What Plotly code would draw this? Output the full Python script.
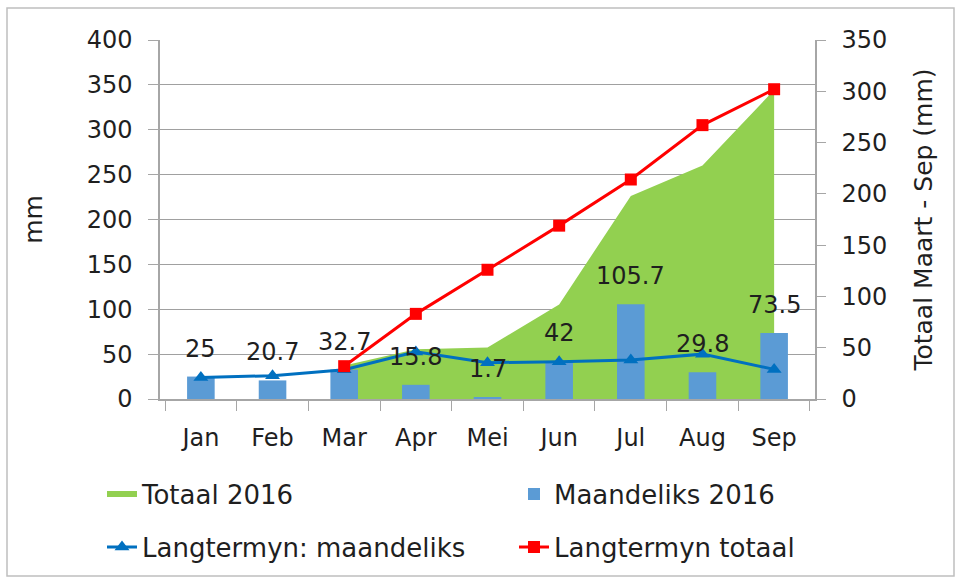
import plotly.graph_objects as go

months = ["Jan", "Feb", "Mar", "Apr", "Mei", "Jun", "Jul", "Aug", "Sep"]
maandeliks_2016 = [25, 20.7, 32.7, 15.8, 1.7, 42, 105.7, 29.8, 73.5]
totaal_months = ["Mar", "Apr", "Mei", "Jun", "Jul", "Aug", "Sep"]
totaal_2016 = [32.7, 48.5, 50.2, 92.2, 197.9, 227.7, 301.2]
langtermyn_maandeliks = [24, 26, 32.5, 52.5, 40.5, 41.5, 43.5, 50, 33]
langtermyn_totaal = [32, 83, 126, 169, 214, 267, 302]

FONT = "DejaVu Sans"
TXT = "#1f1f1f"
AX = "#a6a6a6"

fig = go.Figure()
fig.add_trace(go.Scatter(
    x=totaal_months, y=totaal_2016, name="Totaal 2016", mode="none",
    fill="tozeroy", fillcolor="#92d050", yaxis="y2", legend="legend"))
fig.add_trace(go.Bar(
    x=months, y=maandeliks_2016, name="Maandeliks 2016",
    marker=dict(color="#5b9bd5", line=dict(width=0)), yaxis="y", legend="legend2"))
fig.add_trace(go.Scatter(
    x=months, y=langtermyn_maandeliks, name="Langtermyn: maandeliks",
    mode="lines+markers", line=dict(color="#0070c0", width=3),
    marker=dict(symbol="triangle-up", size=13, color="#0070c0"),
    yaxis="y", legend="legend3"))
fig.add_trace(go.Scatter(
    x=totaal_months, y=langtermyn_totaal, name="Langtermyn totaal",
    mode="lines+markers", line=dict(color="#ff0000", width=3),
    marker=dict(symbol="square", size=12, color="#ff0000"),
    yaxis="y3", legend="legend4"))

for m, v in zip(months, maandeliks_2016):
    fig.add_annotation(x=m, y=v, xref="x", yref="y", text=f"{v:g}",
                       showarrow=False, yshift=28,
                       font=dict(family=FONT, size=24, color=TXT))


def leg(x, y):
    return dict(orientation="h", xref="container", yref="container",
                x=x, y=y, xanchor="left", yanchor="middle",
                font=dict(size=26, color=TXT), bgcolor="rgba(0,0,0,0)")


fig.update_layout(
    width=959, height=580,
    margin=dict(l=160, r=144, t=40, b=181),
    paper_bgcolor="white", plot_bgcolor="white",
    font=dict(family=FONT, size=24, color=TXT),
    bargap=0.615,
    xaxis=dict(type="category", categoryorder="array", categoryarray=months,
               anchor="y2", showline=True, linecolor=AX, linewidth=1.5,
               ticks="outside", tickson="boundaries", ticklen=10, tickcolor=AX,
               ticklabelstandoff=16,
               showgrid=False, tickfont=dict(size=24, color=TXT)),
    yaxis2=dict(side="right", range=[0, 350], dtick=50, showgrid=False,
                showline=True, linecolor=AX, linewidth=1.5, ticks="outside",
                ticklen=9, tickcolor=AX, zeroline=False, ticklabelstandoff=11,
                title=dict(text="Totaal Maart - Sep (mm)", font=dict(size=25, color=TXT), standoff=28),
                tickfont=dict(size=24, color=TXT)),
    yaxis=dict(overlaying="y2", side="left", range=[0, 400], dtick=50,
               showgrid=True, gridcolor="#a0a0a0", gridwidth=1.2,
               showline=True, linecolor=AX, linewidth=1.5, ticks="outside",
               ticklen=10, tickcolor=AX, zeroline=False, ticklabelstandoff=11,
               title=dict(text="mm", font=dict(size=25, color=TXT), standoff=37),
               tickfont=dict(size=24, color=TXT)),
    yaxis3=dict(overlaying="y2", range=[0, 350], visible=False),
    legend=leg(102 / 959, (580 - 494) / 580),
    legend2=leg(514 / 959, (580 - 494) / 580),
    legend3=leg(102 / 959, (580 - 547) / 580),
    legend4=leg(514 / 959, (580 - 547) / 580),
    showlegend=True,
)

fig.add_shape(type="rect", xref="paper", yref="paper",
              x0=(7 - 160) / 655, x1=(954 - 160) / 655,
              y0=(399 - 576) / 359, y1=(399 - 8) / 359,
              line=dict(color="#bfbfbf", width=1.5), fillcolor="rgba(0,0,0,0)",
              layer="below")

fig.write_html("out.html", config={"displayModeBar": False},
               post_script="document.body.style.margin='0';")
